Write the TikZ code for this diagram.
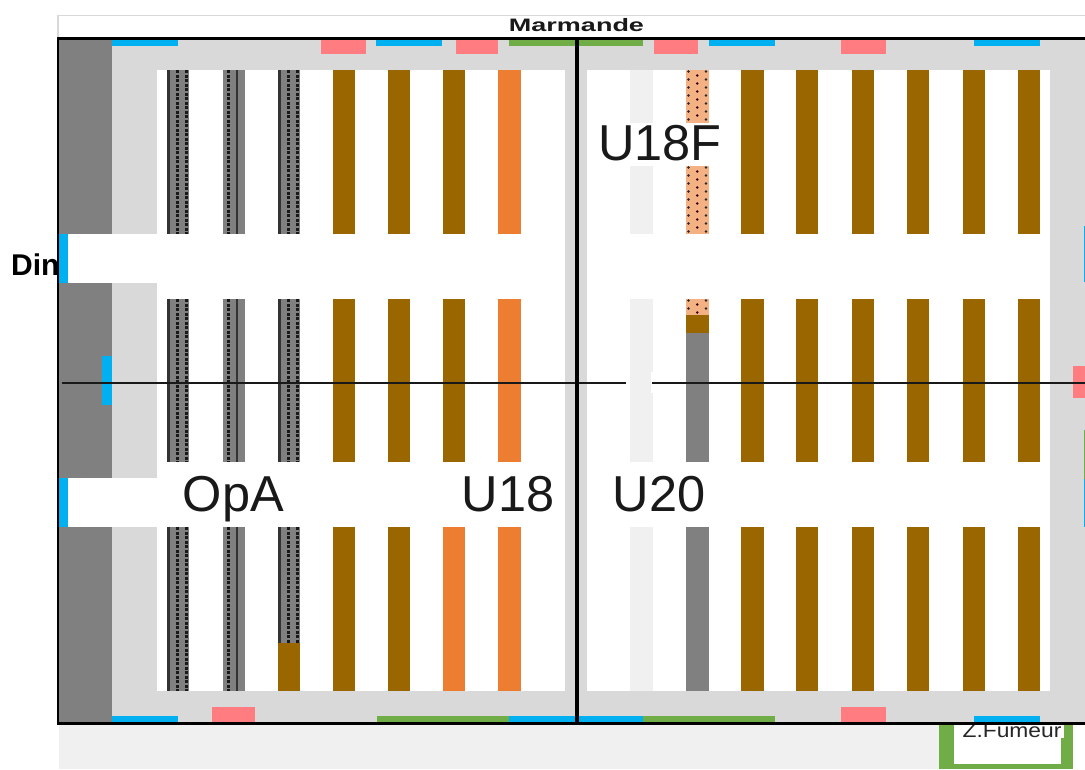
\documentclass[tikz,border=0pt]{standalone}
\usepackage{fontspec}
\setmainfont{Liberation Sans}
\definecolor{brn}{HTML}{996600}
\definecolor{org}{HTML}{ED7D31}
\definecolor{salm}{HTML}{F4B183}
\definecolor{gry}{HTML}{808080}
\definecolor{lgry}{HTML}{D9D9D9}
\definecolor{pale}{HTML}{F0F0F0}
\definecolor{blu}{HTML}{00B0F0}
\definecolor{pnk}{HTML}{FF7C80}
\definecolor{grn}{HTML}{70AD47}
\newcommand{\Row}[3]{\foreach \xa/\xb/\cc in {#3}{\fill[\cc] (\xa,#1) rectangle (\xb,#2);}}
\tikzset{
  bigtext/.style={font=\fontsize{50.5}{50.5}\selectfont,text=black!90,inner sep=0pt,anchor=base},
  frameline/.style={line width=3.6pt,draw=black},
  hatchsolid/.style={line width=2.1pt,draw=black!80},
  hatchdash/.style={line width=2.1pt,draw=black!90,dash pattern=on 3pt off 1.5pt},
  thinline/.style={line width=2pt,draw=black!90}
}
\begin{document}
\begin{tikzpicture}[x=1pt,y=-1pt]
\useasboundingbox (0,0) rectangle (1085,769);
% caption strip
\draw[lgry,line width=1.5pt,fill=white] (58,15.5) rectangle (1090,38);
% bottom strip
\fill[pale] (59,724) rectangle (939,769);
% floor
\fill[lgry] (59,38) rectangle (1085,722);
% dark side
\fill[gry] (59,38) rectangle (112,234);
\fill[gry] (59,283) rectangle (112,478);
\fill[gry] (59,527) rectangle (112,722);
% white rooms
\fill[white] (157,70) rectangle (565,691);
\fill[white] (587,70) rectangle (1050,691);
\fill[white] (59,234) rectangle (157,283);
\fill[white] (59,478) rectangle (157,527);
% rows of bars
\Row{70}{234}{167/189/gry,223/245/gry,278/300/gry,333/355/brn,388/410/brn,443/465/brn,498/521/org,741/764/brn,796/818/brn,852/874/brn,907/929/brn,963/985/brn,1018/1040/brn}
\Row{299}{462}{167/189/gry,223/245/gry,278/300/gry,333/355/brn,388/410/brn,443/465/brn,498/521/org,630/653/pale,741/764/brn,796/818/brn,852/874/brn,907/929/brn,963/985/brn,1018/1040/brn}
\Row{527}{691}{167/189/gry,223/245/gry,278/300/gry,333/355/brn,388/410/brn,443/465/org,498/521/org,630/653/pale,686/709/gry,741/764/brn,796/818/brn,852/874/brn,907/929/brn,963/985/brn,1018/1040/brn}
% split column details
\fill[pale] (630,70) rectangle (653,123);
\fill[pale] (630,166) rectangle (653,234);
\fill[salm] (686,70) rectangle (709,123);
\fill[salm] (686,166) rectangle (709,234);
\fill[salm] (686,299) rectangle (709,315);
\fill[brn] (686,315) rectangle (709,333);
\fill[gry] (686,333) rectangle (709,462);
% dots
\foreach \ya/\yb in {70/123,166/234,299/315}{
  \pgfmathtruncatemacro{\nn}{floor((\yb-\ya)/4)-1}
  \foreach \k in {0,...,\nn}{
    \pgfmathsetmacro{\yy}{\ya+1.5+4*\k}
    \pgfmathtruncatemacro{\parity}{mod(\k,2)}
    \ifnum\parity=0
      \fill[black!85] (688.5,\yy) circle (1.4pt);
      \fill[black!85] (706,\yy) circle (1.4pt);
    \else
      \fill[black!75!purple] (697.3,\yy) circle (1.4pt);
    \fi
  }
}
% lines on the hatched bars
\foreach \ya/\yb in {70/234,299/462,527/691}{
  \draw[hatchsolid] (168.5,\ya) -- (168.5,\yb);
  \draw[hatchdash] (177.5,\ya) -- (177.5,\yb);
  \draw[hatchdash] (186.5,\ya) -- (186.5,\yb);
  \draw[hatchdash] (228.5,\ya) -- (228.5,\yb);
  \draw[hatchsolid] (237,\ya) -- (237,\yb);
  \draw[hatchsolid] (279.5,\ya) -- (279.5,\yb);
  \draw[hatchdash] (288.5,\ya) -- (288.5,\yb);
  \draw[hatchdash] (297.5,\ya) -- (297.5,\yb);
}
\fill[brn] (278,643) rectangle (300,691);
% notch
\fill[white] (651,372) rectangle (654,393);
% top markers
\foreach \xa/\xb in {112/178,376/442,709/775,974/1040}{\fill[blu] (\xa,40) rectangle (\xb,46);}
\fill[grn] (509,40) rectangle (643,46);
\foreach \xa/\xb in {321/366,456/498,654/698,841/886}{\fill[pnk] (\xa,40) rectangle (\xb,54);}
% bottom markers
\foreach \xa/\xb in {112/178,509/643,974/1040}{\fill[blu] (\xa,716) rectangle (\xb,722);}
\foreach \xa/\xb in {377/509,643/775}{\fill[grn] (\xa,716) rectangle (\xb,722);}
\foreach \xa/\xb in {212/255,841/886}{\fill[pnk] (\xa,707) rectangle (\xb,722);}
% left markers
\fill[blu] (102,356) rectangle (112,405);
\fill[blu] (59,478) rectangle (67.5,527);
% right markers
\fill[blu] (1084,226) rectangle (1085,282);
\fill[pnk] (1073,366) rectangle (1085,398);
\fill[grn] (1083.5,430) rectangle (1085,479);
\fill[blu] (1083.5,479) rectangle (1085,527);
% smoking box
\fill[grn] (939,724) rectangle (1073,769);
\fill[white] (954,724) rectangle (1061,763.5);
\fill[white] (1058,724) rectangle (1064,738);
\node[inner sep=0pt,anchor=center,text=black!85,xscale=1.14,font=\fontsize{20}{20}\selectfont] (fumeur) at (1012,731) {Z.Fumeur};
% horizontal axis
\coordinate (ha) at (62,382.5);
\coordinate (hb) at (626,382.5);
\coordinate (hc) at (652,382.5);
\coordinate (hd) at (1085,382.5);
\draw[thinline] (ha) -- (hb);
\draw[thinline] (hc) -- (hd);
% labels under the frame
\node[inner sep=0pt,anchor=base west,font=\bfseries\fontsize{30}{30}\selectfont,text=black] (din) at (11,275) {Din};
\fill[white] (67.5,234) rectangle (80,283);
\fill[blu] (59,234) rectangle (67.5,283);
% frame
\coordinate (fa) at (1085,38.4);
\coordinate (fb) at (58.2,38.4);
\coordinate (fc) at (58.2,723.5);
\coordinate (fd) at (1085,723.5);
\draw[frameline,line width=2.2pt] (fb) -- (fc);
\draw[frameline] (57,38.4) -- (fa);
\draw[frameline] (57,723.5) -- (fd);
\coordinate (ma) at (577,38.4);
\coordinate (mb) at (577,723.5);
\draw[frameline] (ma) -- (mb);
% labels
\node[inner sep=0pt,anchor=center,font=\bfseries\fontsize{18}{18}\selectfont,xscale=1.5,text=black!90] (marmande) at (576.5,25.5) {Marmande};
\node[bigtext] (u18f) at (660,160) {U18F};
\node[bigtext] (opa) at (233.5,511) {OpA};
\node[bigtext] (u18) at (508,511) {U18};
\node[bigtext] (u20) at (659,511) {U20};
\end{tikzpicture}
\end{document}
